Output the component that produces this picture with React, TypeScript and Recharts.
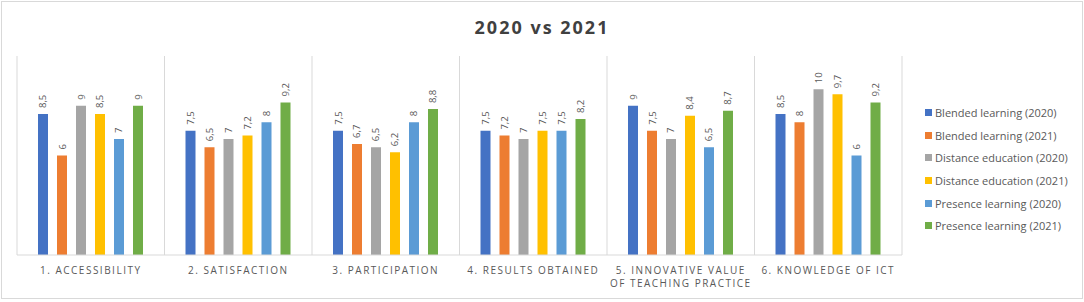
import { BarChart, Bar, XAxis, YAxis, CartesianGrid, LabelList } from "recharts";

const categories = [
  "1. ACCESSIBILITY",
  "2. SATISFACTION",
  "3. PARTICIPATION",
  "4. RESULTS OBTAINED",
  "5. INNOVATIVE VALUE|OF TEACHING PRACTICE",
  "6. KNOWLEDGE OF ICT",
];

const blended2020 = [8.5, 7.5, 7.5, 7.5, 9, 8.5];
const blended2021 = [6, 6.5, 6.7, 7.2, 7.5, 8];
const distance2020 = [9, 7, 6.5, 7, 7, 10];
const distance2021 = [8.5, 7.2, 6.2, 7.5, 8.4, 9.7];
const presence2020 = [7, 8, 8, 7.5, 6.5, 6];
const presence2021 = [9, 9.2, 8.8, 8.2, 8.7, 9.2];

const series = [
  { key: "b20", name: "Blended learning (2020)", values: blended2020, color: "#4472C4" },
  { key: "b21", name: "Blended learning (2021)", values: blended2021, color: "#ED7D31" },
  { key: "d20", name: "Distance education (2020)", values: distance2020, color: "#A5A5A5" },
  { key: "d21", name: "Distance education (2021)", values: distance2021, color: "#FFC000" },
  { key: "p20", name: "Presence learning (2020)", values: presence2020, color: "#5B9BD5" },
  { key: "p21", name: "Presence learning (2021)", values: presence2021, color: "#70AD47" },
];

const data = categories.map((c, i) => {
  const row: Record<string, string | number> = { name: c };
  series.forEach((s) => (row[s.key] = s.values[i]));
  return row;
});

const FONT = "'Open Sans', sans-serif";
const GRAY = "#595959";

const CategoryTick = (props: any) => {
  const { x, y, payload } = props;
  const lines = String(payload.value).split("|");
  return (
    <g transform={`translate(${x},${y})`}>
      {lines.map((l, i) => (
        <text
          key={i}
          x={0}
          y={11 + i * 13}
          textAnchor="middle"
          fill={GRAY}
          fontSize={10}
          letterSpacing={1.5}
          fontFamily={FONT}
        >
          {l}
        </text>
      ))}
    </g>
  );
};

const ValueLabel = (props: any) => {
  const { x, y, width, value } = props;
  const cx = x + width / 2;
  const cy = y - 6;
  return (
    <text
      x={cx}
      y={cy}
      transform={`rotate(-90 ${cx} ${cy})`}
      textAnchor="start"
      dominantBaseline="central"
      fill={GRAY}
      fontSize={9.5}
      fontFamily={FONT}
    >
      {String(value).replace(".", ",")}
    </text>
  );
};

export default function App() {
  return (
    <div style={{ position: "absolute", left: 0, top: 0, width: 1084, height: 302, background: "#fff" }}>
      <div
        style={{
          position: "absolute",
          left: 1,
          top: 1,
          width: 1080,
          height: 296,
          border: "1px solid #d9d9d9",
        }}
      />
      <div
        style={{
          position: "absolute",
          left: 0,
          top: 15,
          width: 1084,
          textAlign: "center",
          fontFamily: FONT,
          fontWeight: 700,
          fontSize: 18,
          letterSpacing: 2,
          color: "#404040",
        }}
      >
        2020 vs 2021
      </div>
      <div
        style={{
          position: "absolute",
          left: 925,
          top: 101,
          fontFamily: FONT,
          fontSize: 11,
          color: GRAY,
        }}
      >
        {series.map((s) => (
          <div key={s.key} style={{ display: "flex", alignItems: "center", height: 22.7 }}>
            <span style={{ width: 7, height: 7, background: s.color, marginRight: 3 }} />
            <span>{s.name}</span>
          </div>
        ))}
      </div>
      <BarChart
        width={1084}
        height={302}
        data={data}
        margin={{ top: 56, left: 17, right: 182, bottom: 0 }}
        barSize={10}
        barGap={9}
        style={{ position: "absolute", left: 0, top: 0 }}
      >
        <CartesianGrid
          horizontal={false}
          stroke="#d9d9d9"
          verticalCoordinatesGenerator={({ offset }: any) =>
            categories
              .map((_, i) => offset.left + (i * offset.width) / categories.length)
              .concat(offset.left + offset.width)
          }
        />
        <XAxis
          dataKey="name"
          axisLine={{ stroke: "#d9d9d9" }}
          tickLine={false}
          interval={0}
          height={47}
          tick={<CategoryTick />}
        />
        <YAxis hide domain={[0, 12]} />
        {series.map((s) => (
          <Bar key={s.key} dataKey={s.key} name={s.name} fill={s.color} isAnimationActive={false}>
            <LabelList dataKey={s.key} content={<ValueLabel />} />
          </Bar>
        ))}
      </BarChart>
    </div>
  );
}
